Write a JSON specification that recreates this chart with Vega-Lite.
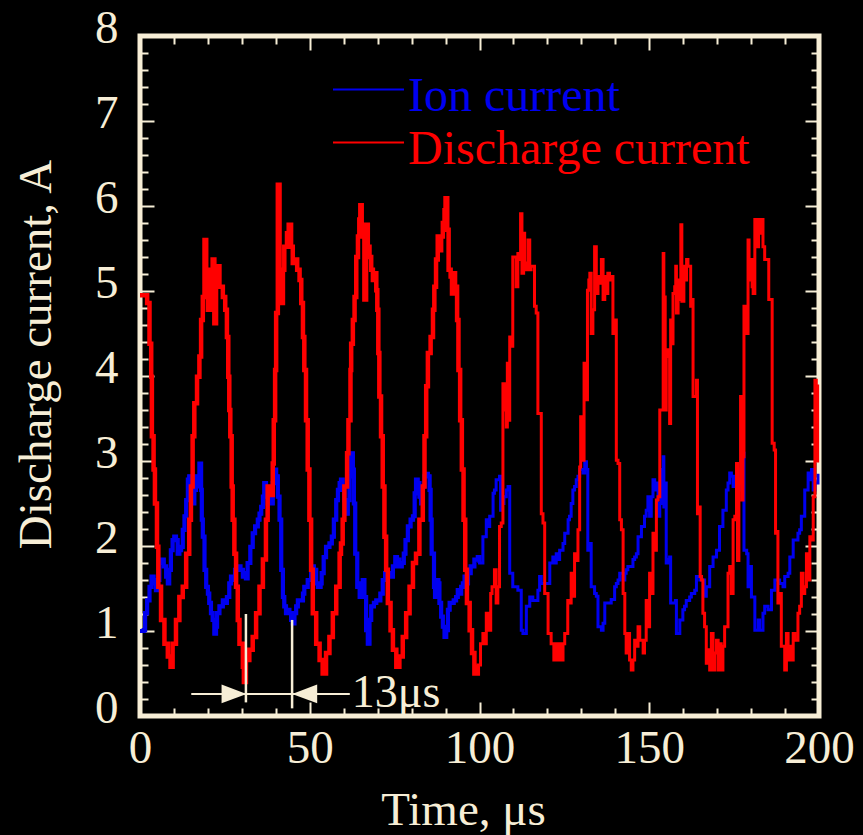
{
 "$schema": "https://vega.github.io/schema/vega-lite/v6.json",
 "width": 679, "height": 680,
 "autosize": {"type": "none"},
 "padding": {"left": 140, "top": 36, "right": 44, "bottom": 119},
 "background": "#000000",
 "datasets": {
  "ion": [
{"time":0,"amps":1.0},{"time":1.1,"amps":1.01},{"time":1.5,"amps":1.21},{"time":2.1,"amps":1.36},{"time":2.8,"amps":1.52},{"time":3.4,"amps":1.64},{"time":4.0,"amps":1.56},{"time":4.7,"amps":1.48},{"time":5.2,"amps":1.6},{"time":5.7,"amps":1.8},{"time":6.4,"amps":1.84},{"time":7.0,"amps":1.76},{"time":7.7,"amps":1.64},{"time":8.2,"amps":1.56},{"time":8.6,"amps":1.72},{"time":9.1,"amps":1.95},{"time":9.6,"amps":2.07},{"time":10.1,"amps":2.11},{"time":10.6,"amps":2.07},{"time":11.1,"amps":1.91},{"time":11.6,"amps":1.95},{"time":12.1,"amps":1.99},{"time":12.6,"amps":2.19},{"time":13.1,"amps":2.35},{"time":13.6,"amps":2.54},{"time":14.1,"amps":2.78},{"time":14.5,"amps":2.82},{"time":15.0,"amps":2.7},{"time":15.5,"amps":2.5},{"time":16.0,"amps":2.66},{"time":16.5,"amps":2.82},{"time":17.0,"amps":2.7},{"time":17.5,"amps":2.97},{"time":18.0,"amps":2.66},{"time":18.2,"amps":2.31},{"time":18.5,"amps":2.11},{"time":19.0,"amps":1.72},{"time":19.5,"amps":1.52},{"time":20.0,"amps":1.44},{"time":20.4,"amps":1.33},{"time":20.9,"amps":1.21},{"time":21.4,"amps":1.13},{"time":21.9,"amps":0.97},{"time":22.4,"amps":1.05},{"time":22.7,"amps":1.21},{"time":23.4,"amps":1.29},{"time":24.4,"amps":1.36},{"time":25.1,"amps":1.33},{"time":25.6,"amps":1.4},{"time":26.3,"amps":1.56},{"time":26.8,"amps":1.64},{"time":27.3,"amps":1.6},{"time":28.0,"amps":1.72},{"time":28.8,"amps":1.76},{"time":29.6,"amps":1.72},{"time":30.3,"amps":1.64},{"time":30.8,"amps":1.68},{"time":31.2,"amps":1.62},{"time":31.7,"amps":1.8},{"time":32.5,"amps":1.99},{"time":33.2,"amps":2.15},{"time":33.9,"amps":2.23},{"time":34.7,"amps":2.31},{"time":35.2,"amps":2.38},{"time":35.7,"amps":2.46},{"time":36.2,"amps":2.58},{"time":36.6,"amps":2.74},{"time":37.1,"amps":2.62},{"time":37.6,"amps":2.5},{"time":38.1,"amps":2.66},{"time":38.6,"amps":2.5},{"time":39.1,"amps":2.74},{"time":39.6,"amps":2.9},{"time":40.1,"amps":2.82},{"time":40.6,"amps":2.58},{"time":41.1,"amps":2.31},{"time":41.6,"amps":1.72},{"time":42.1,"amps":1.4},{"time":42.5,"amps":1.29},{"time":43.0,"amps":1.21},{"time":43.5,"amps":1.25},{"time":44.0,"amps":1.21},{"time":44.5,"amps":1.13},{"time":45.0,"amps":1.09},{"time":45.5,"amps":1.21},{"time":46.0,"amps":1.29},{"time":46.5,"amps":1.36},{"time":47.5,"amps":1.36},{"time":48.0,"amps":1.44},{"time":48.4,"amps":1.52},{"time":49.4,"amps":1.6},{"time":50.4,"amps":1.76},{"time":51.2,"amps":1.72},{"time":51.9,"amps":1.56},{"time":52.4,"amps":1.52},{"time":53.2,"amps":1.56},{"time":53.5,"amps":1.68},{"time":54.1,"amps":1.87},{"time":54.8,"amps":1.99},{"time":55.8,"amps":2.03},{"time":56.5,"amps":2.11},{"time":57.1,"amps":2.31},{"time":57.8,"amps":2.54},{"time":58.3,"amps":2.66},{"time":58.8,"amps":2.74},{"time":59.2,"amps":2.78},{"time":59.7,"amps":2.66},{"time":60.2,"amps":2.54},{"time":60.7,"amps":2.38},{"time":61.2,"amps":2.54},{"time":61.7,"amps":2.82},{"time":62.2,"amps":3.09},{"time":62.7,"amps":2.9},{"time":63.0,"amps":2.5},{"time":63.4,"amps":1.91},{"time":64.0,"amps":1.52},{"time":64.7,"amps":1.4},{"time":65.1,"amps":1.56},{"time":65.6,"amps":1.6},{"time":66.1,"amps":1.4},{"time":66.6,"amps":1.01},{"time":67.1,"amps":0.85},{"time":67.6,"amps":1.13},{"time":68.1,"amps":1.29},{"time":68.9,"amps":1.33},{"time":69.6,"amps":1.36},{"time":70.2,"amps":1.36},{"time":70.8,"amps":1.44},{"time":71.5,"amps":1.6},{"time":72.2,"amps":1.68},{"time":73.0,"amps":1.68},{"time":73.8,"amps":1.64},{"time":74.5,"amps":1.76},{"time":75.2,"amps":1.87},{"time":75.7,"amps":1.84},{"time":76.4,"amps":1.76},{"time":77.1,"amps":1.8},{"time":77.7,"amps":1.91},{"time":78.2,"amps":2.07},{"time":78.9,"amps":2.23},{"time":79.7,"amps":2.31},{"time":80.4,"amps":2.35},{"time":80.9,"amps":2.62},{"time":81.3,"amps":2.78},{"time":81.8,"amps":2.74},{"time":82.3,"amps":2.58},{"time":82.8,"amps":2.5},{"time":83.3,"amps":2.7},{"time":83.8,"amps":2.82},{"time":84.3,"amps":2.85},{"time":84.8,"amps":2.82},{"time":85.3,"amps":2.66},{"time":85.6,"amps":2.31},{"time":85.9,"amps":1.91},{"time":86.6,"amps":1.52},{"time":86.9,"amps":1.4},{"time":87.5,"amps":1.6},{"time":87.9,"amps":1.56},{"time":88.2,"amps":1.33},{"time":88.7,"amps":1.17},{"time":89.2,"amps":1.05},{"time":89.7,"amps":0.93},{"time":90.2,"amps":1.01},{"time":90.7,"amps":1.25},{"time":91.2,"amps":1.33},{"time":91.9,"amps":1.33},{"time":92.4,"amps":1.36},{"time":93.1,"amps":1.4},{"time":93.6,"amps":1.48},{"time":94.1,"amps":1.44},{"time":94.6,"amps":1.52},{"time":95.1,"amps":1.56},{"time":95.6,"amps":1.64},{"time":96.1,"amps":1.56},{"time":96.6,"amps":1.68},{"time":97.4,"amps":1.76},{"time":98.0,"amps":1.76},{"time":98.5,"amps":1.84},{"time":99.5,"amps":1.87},{"time":100.0,"amps":1.8},{"time":101.0,"amps":2.11},{"time":102.0,"amps":2.31},{"time":102.5,"amps":2.23},{"time":103.0,"amps":2.35},{"time":104.0,"amps":2.62},{"time":104.4,"amps":2.66},{"time":104.9,"amps":2.78},{"time":105.9,"amps":2.82},{"time":106.2,"amps":2.42},{"time":106.6,"amps":2.5},{"time":107.2,"amps":2.58},{"time":107.9,"amps":2.66},{"time":108.4,"amps":2.7},{"time":108.9,"amps":1.68},{"time":109.8,"amps":1.52},{"time":111.3,"amps":1.48},{"time":112.3,"amps":1.01},{"time":112.8,"amps":0.97},{"time":113.8,"amps":1.29},{"time":114.8,"amps":1.4},{"time":115.7,"amps":1.36},{"time":117.2,"amps":1.48},{"time":117.7,"amps":1.64},{"time":118.2,"amps":1.56},{"time":120.2,"amps":1.56},{"time":120.7,"amps":1.8},{"time":121.6,"amps":1.87},{"time":122.1,"amps":1.8},{"time":122.6,"amps":1.91},{"time":123.1,"amps":1.84},{"time":123.6,"amps":1.95},{"time":124.6,"amps":2.03},{"time":125.1,"amps":2.15},{"time":126.1,"amps":2.31},{"time":126.5,"amps":2.35},{"time":127.0,"amps":2.5},{"time":127.5,"amps":2.66},{"time":128.0,"amps":2.7},{"time":128.5,"amps":2.78},{"time":129.0,"amps":2.82},{"time":129.5,"amps":2.9},{"time":130.5,"amps":2.86},{"time":131.0,"amps":2.99},{"time":131.5,"amps":2.9},{"time":131.9,"amps":1.95},{"time":132.4,"amps":2.03},{"time":132.9,"amps":1.52},{"time":133.9,"amps":1.44},{"time":134.4,"amps":1.41},{"time":134.9,"amps":1.05},{"time":135.9,"amps":1.01},{"time":136.4,"amps":1.09},{"time":136.9,"amps":1.33},{"time":138.8,"amps":1.37},{"time":139.8,"amps":1.52},{"time":140.3,"amps":1.56},{"time":140.8,"amps":1.6},{"time":141.3,"amps":1.68},{"time":142.3,"amps":1.6},{"time":142.8,"amps":1.68},{"time":143.2,"amps":1.72},{"time":143.7,"amps":1.76},{"time":145.2,"amps":1.84},{"time":145.7,"amps":1.87},{"time":146.2,"amps":1.91},{"time":146.7,"amps":2.11},{"time":147.7,"amps":2.23},{"time":148.6,"amps":2.35},{"time":149.1,"amps":2.42},{"time":149.6,"amps":2.58},{"time":150.1,"amps":2.35},{"time":150.6,"amps":2.58},{"time":151.1,"amps":2.78},{"time":151.6,"amps":2.66},{"time":152.1,"amps":2.74},{"time":152.6,"amps":2.35},{"time":153.1,"amps":2.5},{"time":153.6,"amps":2.9},{"time":154.1,"amps":3.05},{"time":154.3,"amps":2.46},{"time":154.7,"amps":2.74},{"time":155.0,"amps":1.8},{"time":155.5,"amps":1.84},{"time":156.0,"amps":1.87},{"time":156.3,"amps":1.33},{"time":157.7,"amps":1.36},{"time":158.0,"amps":0.97},{"time":159.0,"amps":1.13},{"time":159.9,"amps":1.25},{"time":160.4,"amps":1.29},{"time":160.9,"amps":1.36},{"time":161.9,"amps":1.4},{"time":162.4,"amps":1.44},{"time":163.4,"amps":1.48},{"time":163.9,"amps":1.64},{"time":164.9,"amps":1.6},{"time":166.3,"amps":1.41},{"time":166.8,"amps":1.52},{"time":167.8,"amps":1.76},{"time":168.8,"amps":1.87},{"time":169.8,"amps":1.95},{"time":170.7,"amps":2.23},{"time":171.7,"amps":2.42},{"time":172.7,"amps":2.66},{"time":173.2,"amps":2.74},{"time":173.7,"amps":2.86},{"time":174.2,"amps":2.82},{"time":174.7,"amps":2.7},{"time":175.2,"amps":2.82},{"time":175.7,"amps":2.9},{"time":176.2,"amps":2.66},{"time":176.6,"amps":2.74},{"time":177.1,"amps":3.01},{"time":177.6,"amps":3.09},{"time":177.9,"amps":1.95},{"time":178.7,"amps":1.91},{"time":179.1,"amps":1.52},{"time":179.6,"amps":1.76},{"time":180.1,"amps":1.4},{"time":181.1,"amps":1.01},{"time":182.1,"amps":1.13},{"time":182.5,"amps":1.01},{"time":183.5,"amps":1.21},{"time":184.0,"amps":1.29},{"time":185.0,"amps":1.25},{"time":186.0,"amps":1.48},{"time":187.0,"amps":1.6},{"time":188.4,"amps":1.56},{"time":189.4,"amps":1.52},{"time":189.9,"amps":1.64},{"time":190.9,"amps":1.68},{"time":191.4,"amps":1.87},{"time":192.4,"amps":2.07},{"time":193.8,"amps":2.15},{"time":194.3,"amps":2.19},{"time":194.8,"amps":2.35},{"time":195.8,"amps":2.66},{"time":196.8,"amps":2.86},{"time":197.3,"amps":2.78},{"time":197.8,"amps":2.9},{"time":198.3,"amps":2.66},{"time":198.8,"amps":2.74},{"time":199.7,"amps":2.85}
  ],
  "discharge": [
{"time":0,"amps":4.95},{"time":1.1,"amps":4.95},{"time":2.1,"amps":4.86},{"time":2.8,"amps":4.38},{"time":3.3,"amps":3.99},{"time":3.5,"amps":3.29},{"time":4.0,"amps":2.9},{"time":4.4,"amps":2.5},{"time":5.0,"amps":1.99},{"time":5.4,"amps":1.52},{"time":6.2,"amps":1.13},{"time":7.2,"amps":0.85},{"time":8.2,"amps":0.7},{"time":9.0,"amps":0.58},{"time":9.6,"amps":0.85},{"time":10.6,"amps":1.13},{"time":11.6,"amps":1.4},{"time":12.6,"amps":1.52},{"time":13.6,"amps":1.91},{"time":14.5,"amps":2.31},{"time":15.0,"amps":2.7},{"time":15.5,"amps":3.29},{"time":16.0,"amps":3.68},{"time":16.8,"amps":3.99},{"time":17.5,"amps":4.23},{"time":18.0,"amps":4.66},{"time":18.5,"amps":4.93},{"time":19.0,"amps":5.6},{"time":19.5,"amps":5.25},{"time":20.0,"amps":4.78},{"time":20.9,"amps":5.25},{"time":21.4,"amps":5.37},{"time":21.9,"amps":4.62},{"time":22.4,"amps":5.29},{"time":23.4,"amps":5.05},{"time":24.4,"amps":4.93},{"time":25.1,"amps":4.78},{"time":25.6,"amps":4.46},{"time":26.0,"amps":3.99},{"time":26.3,"amps":3.6},{"time":26.6,"amps":3.29},{"time":27.0,"amps":2.7},{"time":27.3,"amps":2.31},{"time":27.8,"amps":1.91},{"time":28.3,"amps":1.52},{"time":28.8,"amps":1.13},{"time":29.3,"amps":0.85},{"time":30.3,"amps":0.58},{"time":30.6,"amps":0.4},{"time":31.2,"amps":0.66},{"time":32.2,"amps":0.78},{"time":33.2,"amps":0.93},{"time":34.2,"amps":1.21},{"time":35.2,"amps":1.52},{"time":36.2,"amps":1.84},{"time":37.1,"amps":2.31},{"time":37.6,"amps":2.7},{"time":38.6,"amps":2.6},{"time":39.1,"amps":2.97},{"time":39.4,"amps":3.48},{"time":39.8,"amps":4.07},{"time":40.1,"amps":4.74},{"time":40.6,"amps":6.25},{"time":41.1,"amps":4.93},{"time":41.6,"amps":4.86},{"time":42.1,"amps":5.25},{"time":42.5,"amps":5.52},{"time":43.3,"amps":5.68},{"time":43.8,"amps":5.78},{"time":44.5,"amps":5.52},{"time":45.0,"amps":5.33},{"time":45.5,"amps":5.37},{"time":46.3,"amps":5.25},{"time":47.0,"amps":5.13},{"time":47.5,"amps":4.86},{"time":48.0,"amps":4.46},{"time":48.4,"amps":4.07},{"time":48.9,"amps":3.48},{"time":49.4,"amps":2.9},{"time":49.9,"amps":2.31},{"time":50.4,"amps":1.72},{"time":50.9,"amps":1.21},{"time":51.9,"amps":0.85},{"time":52.9,"amps":0.66},{"time":53.8,"amps":0.5},{"time":54.8,"amps":0.74},{"time":55.8,"amps":0.93},{"time":56.8,"amps":1.21},{"time":57.8,"amps":1.52},{"time":58.8,"amps":1.91},{"time":59.2,"amps":2.03},{"time":59.7,"amps":2.31},{"time":60.2,"amps":2.7},{"time":61.0,"amps":3.09},{"time":61.4,"amps":3.48},{"time":62.0,"amps":4.07},{"time":62.2,"amps":4.38},{"time":62.7,"amps":4.66},{"time":63.2,"amps":4.93},{"time":63.7,"amps":5.4},{"time":64.2,"amps":5.64},{"time":64.6,"amps":5.84},{"time":64.9,"amps":6.01},{"time":65.3,"amps":5.66},{"time":65.6,"amps":5.64},{"time":66.1,"amps":4.9},{"time":66.6,"amps":5.78},{"time":67.1,"amps":5.52},{"time":67.6,"amps":5.4},{"time":68.1,"amps":5.25},{"time":68.6,"amps":5.13},{"time":69.1,"amps":5.21},{"time":69.6,"amps":5.01},{"time":69.9,"amps":4.78},{"time":70.2,"amps":4.27},{"time":70.5,"amps":3.76},{"time":71.0,"amps":3.29},{"time":71.5,"amps":2.7},{"time":72.0,"amps":2.11},{"time":72.5,"amps":1.72},{"time":73.0,"amps":1.33},{"time":73.8,"amps":1.01},{"time":74.5,"amps":0.78},{"time":75.5,"amps":0.58},{"time":76.4,"amps":0.7},{"time":77.4,"amps":0.93},{"time":78.4,"amps":1.21},{"time":79.4,"amps":1.52},{"time":80.4,"amps":1.8},{"time":81.3,"amps":1.91},{"time":82.3,"amps":2.31},{"time":83.3,"amps":2.7},{"time":83.8,"amps":3.29},{"time":84.3,"amps":3.88},{"time":84.8,"amps":4.27},{"time":85.6,"amps":4.46},{"time":86.3,"amps":4.78},{"time":86.7,"amps":5.05},{"time":87.2,"amps":5.37},{"time":87.7,"amps":5.64},{"time":88.2,"amps":5.48},{"time":88.7,"amps":5.64},{"time":89.2,"amps":5.8},{"time":89.7,"amps":5.95},{"time":90.0,"amps":6.09},{"time":90.5,"amps":5.72},{"time":90.9,"amps":5.25},{"time":91.5,"amps":5.17},{"time":91.9,"amps":4.97},{"time":92.4,"amps":5.21},{"time":92.8,"amps":5.05},{"time":93.4,"amps":4.66},{"time":93.8,"amps":4.07},{"time":94.3,"amps":3.48},{"time":94.8,"amps":2.9},{"time":95.3,"amps":2.31},{"time":95.8,"amps":1.72},{"time":96.3,"amps":1.33},{"time":97.1,"amps":1.01},{"time":97.8,"amps":0.74},{"time":98.5,"amps":0.5},{"time":99.5,"amps":0.6},{"time":100.3,"amps":0.85},{"time":101.0,"amps":0.97},{"time":101.5,"amps":0.85},{"time":102.0,"amps":1.21},{"time":102.5,"amps":1.01},{"time":103.3,"amps":1.44},{"time":103.7,"amps":1.52},{"time":104.4,"amps":1.72},{"time":104.9,"amps":1.33},{"time":105.4,"amps":1.52},{"time":105.9,"amps":2.23},{"time":106.4,"amps":2.27},{"time":106.9,"amps":3.91},{"time":107.4,"amps":3.6},{"time":107.9,"amps":3.4},{"time":108.2,"amps":4.15},{"time":108.6,"amps":3.48},{"time":108.9,"amps":4.46},{"time":109.4,"amps":4.35},{"time":109.8,"amps":5.4},{"time":110.3,"amps":5.4},{"time":110.8,"amps":5.05},{"time":111.3,"amps":5.44},{"time":111.8,"amps":5.37},{"time":112.1,"amps":5.91},{"time":112.5,"amps":5.21},{"time":113.0,"amps":5.68},{"time":113.3,"amps":5.33},{"time":113.8,"amps":5.25},{"time":114.3,"amps":5.6},{"time":114.8,"amps":5.25},{"time":115.2,"amps":5.29},{"time":116.2,"amps":4.82},{"time":116.7,"amps":4.74},{"time":117.2,"amps":3.56},{"time":118.2,"amps":2.38},{"time":118.7,"amps":2.27},{"time":119.2,"amps":1.44},{"time":120.2,"amps":0.97},{"time":121.1,"amps":0.85},{"time":121.9,"amps":0.66},{"time":122.6,"amps":0.85},{"time":123.1,"amps":0.66},{"time":123.6,"amps":0.85},{"time":124.1,"amps":0.66},{"time":124.6,"amps":0.85},{"time":125.1,"amps":0.97},{"time":126.0,"amps":1.36},{"time":126.5,"amps":1.33},{"time":127.0,"amps":1.68},{"time":127.5,"amps":1.41},{"time":128.0,"amps":1.91},{"time":128.5,"amps":1.83},{"time":129.0,"amps":2.19},{"time":129.5,"amps":2.93},{"time":129.8,"amps":3.52},{"time":130.2,"amps":3.44},{"time":130.5,"amps":3.01},{"time":130.8,"amps":4.15},{"time":131.2,"amps":3.72},{"time":131.8,"amps":5.01},{"time":132.2,"amps":5.13},{"time":132.5,"amps":5.21},{"time":132.9,"amps":4.5},{"time":133.4,"amps":4.78},{"time":133.9,"amps":5.52},{"time":134.4,"amps":4.97},{"time":134.9,"amps":5.17},{"time":135.4,"amps":5.09},{"time":135.9,"amps":5.37},{"time":136.4,"amps":4.9},{"time":136.9,"amps":5.17},{"time":137.3,"amps":4.97},{"time":137.8,"amps":5.21},{"time":138.3,"amps":5.13},{"time":138.8,"amps":5.17},{"time":139.3,"amps":4.5},{"time":139.8,"amps":4.66},{"time":140.3,"amps":3.01},{"time":140.8,"amps":2.97},{"time":141.3,"amps":2.31},{"time":141.8,"amps":2.19},{"time":142.3,"amps":1.44},{"time":142.8,"amps":0.97},{"time":143.2,"amps":0.74},{"time":143.7,"amps":0.97},{"time":144.2,"amps":0.66},{"time":144.7,"amps":0.54},{"time":145.2,"amps":0.66},{"time":145.7,"amps":0.89},{"time":146.2,"amps":0.82},{"time":146.7,"amps":1.05},{"time":147.2,"amps":0.89},{"time":148.2,"amps":0.74},{"time":148.6,"amps":0.89},{"time":149.1,"amps":1.36},{"time":149.6,"amps":1.05},{"time":150.1,"amps":1.68},{"time":150.8,"amps":1.44},{"time":151.1,"amps":2.15},{"time":151.6,"amps":1.95},{"time":152.1,"amps":2.54},{"time":152.6,"amps":2.58},{"time":153.1,"amps":3.6},{"time":154.1,"amps":5.44},{"time":154.3,"amps":4.93},{"time":154.7,"amps":3.6},{"time":155.0,"amps":4.31},{"time":155.5,"amps":4.23},{"time":156.0,"amps":3.44},{"time":156.3,"amps":4.66},{"time":156.7,"amps":4.38},{"time":157.0,"amps":4.97},{"time":157.5,"amps":5.05},{"time":157.8,"amps":5.29},{"time":158.0,"amps":4.74},{"time":158.5,"amps":5.13},{"time":158.9,"amps":4.9},{"time":159.3,"amps":5.78},{"time":159.6,"amps":4.88},{"time":160.2,"amps":5.29},{"time":160.6,"amps":5.13},{"time":161.0,"amps":5.37},{"time":161.4,"amps":5.29},{"time":161.9,"amps":5.29},{"time":162.2,"amps":4.82},{"time":162.6,"amps":4.9},{"time":162.9,"amps":3.76},{"time":163.4,"amps":3.76},{"time":163.9,"amps":3.95},{"time":164.2,"amps":2.38},{"time":164.6,"amps":2.46},{"time":165.0,"amps":1.64},{"time":165.4,"amps":1.6},{"time":165.8,"amps":1.21},{"time":166.3,"amps":1.05},{"time":166.8,"amps":0.62},{"time":167.3,"amps":0.78},{"time":167.8,"amps":0.54},{"time":168.3,"amps":0.97},{"time":168.8,"amps":0.54},{"time":169.3,"amps":0.74},{"time":169.8,"amps":0.89},{"time":170.3,"amps":0.54},{"time":170.8,"amps":0.85},{"time":171.2,"amps":0.54},{"time":171.7,"amps":0.82},{"time":172.2,"amps":1.05},{"time":173.2,"amps":1.68},{"time":173.7,"amps":1.76},{"time":174.2,"amps":1.44},{"time":174.7,"amps":2.31},{"time":175.2,"amps":2.35},{"time":175.7,"amps":2.97},{"time":176.0,"amps":1.83},{"time":176.4,"amps":2.74},{"time":176.6,"amps":2.78},{"time":176.9,"amps":3.76},{"time":177.3,"amps":2.54},{"time":177.6,"amps":3.05},{"time":177.9,"amps":4.82},{"time":178.3,"amps":4.5},{"time":178.7,"amps":4.5},{"time":179.1,"amps":5.6},{"time":179.4,"amps":5.13},{"time":179.9,"amps":5.37},{"time":180.3,"amps":5.05},{"time":180.6,"amps":4.97},{"time":181.1,"amps":5.84},{"time":181.6,"amps":5.6},{"time":181.9,"amps":5.52},{"time":182.2,"amps":5.84},{"time":182.6,"amps":5.68},{"time":183.0,"amps":5.84},{"time":183.5,"amps":5.52},{"time":184.0,"amps":5.37},{"time":184.5,"amps":5.37},{"time":185.2,"amps":4.9},{"time":185.8,"amps":4.9},{"time":186.2,"amps":3.21},{"time":186.8,"amps":3.13},{"time":187.2,"amps":2.15},{"time":187.5,"amps":2.17},{"time":187.9,"amps":1.33},{"time":188.4,"amps":1.44},{"time":188.9,"amps":0.82},{"time":189.4,"amps":0.82},{"time":189.9,"amps":0.54},{"time":190.4,"amps":0.97},{"time":190.9,"amps":0.66},{"time":191.4,"amps":0.82},{"time":191.9,"amps":0.66},{"time":192.4,"amps":0.97},{"time":192.9,"amps":0.89},{"time":193.3,"amps":0.89},{"time":193.8,"amps":1.21},{"time":194.3,"amps":1.29},{"time":194.8,"amps":1.68},{"time":195.3,"amps":1.44},{"time":195.8,"amps":1.52},{"time":196.3,"amps":1.91},{"time":196.8,"amps":1.6},{"time":197.3,"amps":2.11},{"time":197.8,"amps":2.07},{"time":198.3,"amps":2.58},{"time":198.8,"amps":3.95},{"time":199.2,"amps":3.0},{"time":199.6,"amps":3.9}
  ]
 },
 "layer": [
  {
   "data": {"name": "ion"},
   "mark": {"type": "line", "interpolate": "step-after", "strokeWidth": 3},
   "encoding": {
    "x": {"field": "time", "type": "quantitative", "scale": {"domain": [0, 200], "nice": false, "zero": false},
     "axis": {"orient": "bottom", "values": [0,10,20,30,40,50,60,70,80,90,100,110,120,130,140,150,160,170,180,190,200],
      "tickSize": {"condition": {"test": "datum.value % 50 === 0", "value": -14}, "value": -8},
      "labelExpr": "datum.value % 50 === 0 ? datum.label : ''",
      "labelPadding": 23, "labelFlush": false, "labelOverlap": false, "labelBound": false,
      "title": "Time, μs", "titleFontSize": 47, "titleX": 323, "titleY": 108, "titleBaseline": "alphabetic", "titleAnchor": "middle"}},
    "y": {"field": "amps", "type": "quantitative", "scale": {"domain": [0, 8], "nice": false},
     "axis": {"orient": "left", "values": [0,0.2,0.4,0.6,0.8,1,1.2,1.4,1.6,1.8,2,2.2,2.4,2.6,2.8,3,3.2,3.4,3.6,3.8,4,4.2,4.4,4.6,4.8,5,5.2,5.4,5.6,5.8,6,6.2,6.4,6.6,6.8,7,7.2,7.4,7.6,7.8,8],
      "tickSize": {"condition": {"test": "abs(datum.value - round(datum.value)) < 0.01", "value": -14}, "value": -8},
      "labelExpr": "abs(datum.value - round(datum.value)) < 0.01 ? format(datum.value, 'd') : ''",
      "labelPadding": 36, "labelOffset": -8, "labelFlush": false, "labelOverlap": false, "labelBound": false,
      "title": "Discharge current, A", "titleFontSize": 47, "titleX": -90, "titleY": 318, "titleAngle": 270, "titleBaseline": "alphabetic", "titleAnchor": "middle"}},
    "color": {"datum": "Ion current", "type": "nominal",
     "scale": {"domain": ["Ion current"], "range": ["#0000F0"]},
     "legend": {"orient": "none", "legendX": 192, "legendY": 17, "title": null,
      "symbolType": "stroke", "symbolSize": 5041, "symbolStrokeWidth": 2,
      "labelFont": "Liberation Serif", "labelFontSize": 48, "labelOffset": 3, "labelLimit": 0,
      "labelColor": "#0000F0",
      "encode": {"labels": {"update": {"dy": {"value": 7}}}}}}
   }
  },
  {
   "data": {"name": "ion"},
   "transform": [{"filter": "datum.time <= 100"}],
   "mark": {"type": "line", "interpolate": "step-after", "strokeWidth": 4.2, "color": "#0000F0"},
   "encoding": {
    "x": {"field": "time", "type": "quantitative", "scale": {"domain": [0, 200], "nice": false, "zero": false}, "axis": null},
    "y": {"field": "amps", "type": "quantitative", "scale": {"domain": [0, 8], "nice": false}, "axis": null}
   }
  },
  {
   "data": {"name": "discharge"},
   "mark": {"type": "line", "interpolate": "step-after", "strokeWidth": 3},
   "encoding": {
    "x": {"field": "time", "type": "quantitative", "scale": {"domain": [0, 200], "nice": false, "zero": false}, "axis": null},
    "y": {"field": "amps", "type": "quantitative", "scale": {"domain": [0, 8], "nice": false}, "axis": null},
    "color": {"datum": "Discharge current", "type": "nominal",
     "scale": {"domain": ["Discharge current"], "range": ["#FF0000"]},
     "legend": {"orient": "none", "legendX": 192, "legendY": 70, "title": null,
      "symbolType": "stroke", "symbolSize": 5041, "symbolStrokeWidth": 2,
      "labelFont": "Liberation Serif", "labelFontSize": 48, "labelOffset": 3, "labelLimit": 0,
      "labelColor": "#FF0000",
      "encode": {"labels": {"update": {"dy": {"value": 7}}}}}}
   }
  },
  {
   "data": {"name": "discharge"},
   "transform": [{"filter": "datum.time <= 100"}],
   "mark": {"type": "line", "interpolate": "step-after", "strokeWidth": 4.5, "color": "#FF0000"},
   "encoding": {
    "x": {"field": "time", "type": "quantitative", "scale": {"domain": [0, 200], "nice": false, "zero": false}, "axis": null},
    "y": {"field": "amps", "type": "quantitative", "scale": {"domain": [0, 8], "nice": false}, "axis": null}
   }
  },
  {
   "data": {"values": [{"time": 31.2, "low": 0.16, "high": 1.2}, {"time": 44.8, "low": 0.09, "high": 1.13}]},
   "mark": {"type": "rule", "color": "#F7EED6", "strokeWidth": 2.5},
   "encoding": {
    "x": {"field": "time", "type": "quantitative", "scale": {"domain": [0, 200], "nice": false, "zero": false},
     "axis": {"orient": "top", "values": [0,10,20,30,40,50,60,70,80,90,100,110,120,130,140,150,160,170,180,190,200],
      "tickSize": {"condition": {"test": "datum.value % 50 === 0", "value": -14}, "value": -8},
      "labels": false, "title": null}},
    "y": {"field": "low", "type": "quantitative", "scale": {"domain": [0, 8], "nice": false},
     "axis": {"orient": "right", "values": [0,0.2,0.4,0.6,0.8,1,1.2,1.4,1.6,1.8,2,2.2,2.4,2.6,2.8,3,3.2,3.4,3.6,3.8,4,4.2,4.4,4.6,4.8,5,5.2,5.4,5.6,5.8,6,6.2,6.4,6.6,6.8,7,7.2,7.4,7.6,7.8,8],
      "tickSize": {"condition": {"test": "abs(datum.value - round(datum.value)) < 0.01", "value": -14}, "value": -8},
      "labels": false, "title": null}},
    "y2": {"field": "high"}
   }
  },
  {
   "data": {"values": [{"from": 15.1, "to": 61.8, "amps": 0.26}]},
   "mark": {"type": "rule", "color": "#F7EED6", "strokeWidth": 2},
   "encoding": {
    "x": {"field": "from", "type": "quantitative", "scale": {"domain": [0, 200], "nice": false, "zero": false}, "axis": null},
    "x2": {"field": "to"},
    "y": {"field": "amps", "type": "quantitative", "scale": {"domain": [0, 8], "nice": false}, "axis": null}
   }
  },
  {
   "data": {"values": [{"time": 27.7, "amps": 0.26, "direction": "right"}, {"time": 48.5, "amps": 0.26, "direction": "left"}]},
   "mark": {"type": "point", "filled": true, "opacity": 1, "size": 625, "color": "#F7EED6"},
   "encoding": {
    "x": {"field": "time", "type": "quantitative", "scale": {"domain": [0, 200], "nice": false, "zero": false}, "axis": null},
    "y": {"field": "amps", "type": "quantitative", "scale": {"domain": [0, 8], "nice": false}, "axis": null},
    "shape": {"field": "direction", "type": "nominal", "scale": {"domain": ["right", "left"], "range": ["M-1,-0.75L1,0L-1,0.75Z", "M1,-0.75L-1,0L1,0.75Z"]}, "legend": null}
   }
  },
  {
   "data": {"values": [{"time": 62.4, "amps": 0.11, "label": "13μs"}]},
   "mark": {"type": "text", "align": "left", "baseline": "alphabetic", "fontSize": 46, "font": "Liberation Serif", "color": "#F7EED6"},
   "encoding": {
    "x": {"field": "time", "type": "quantitative", "scale": {"domain": [0, 200], "nice": false, "zero": false}, "axis": null},
    "y": {"field": "amps", "type": "quantitative", "scale": {"domain": [0, 8], "nice": false}, "axis": null},
    "text": {"field": "label"}
   }
  }
 ],
 "resolve": {"axis": {"x": "independent", "y": "independent"}, "scale": {"color": "independent"}},
 "config": {
  "view": {"stroke": "#F7EED6", "strokeWidth": 5},
  "axis": {"domain": false, "grid": false, "tickColor": "#F7EED6", "tickWidth": 2,
   "labelColor": "#F7EED6", "labelFont": "Liberation Serif", "labelFontSize": 47,
   "titleColor": "#F7EED6", "titleFont": "Liberation Serif", "titleFontSize": 47, "titleFontWeight": "normal"}
 }
}
